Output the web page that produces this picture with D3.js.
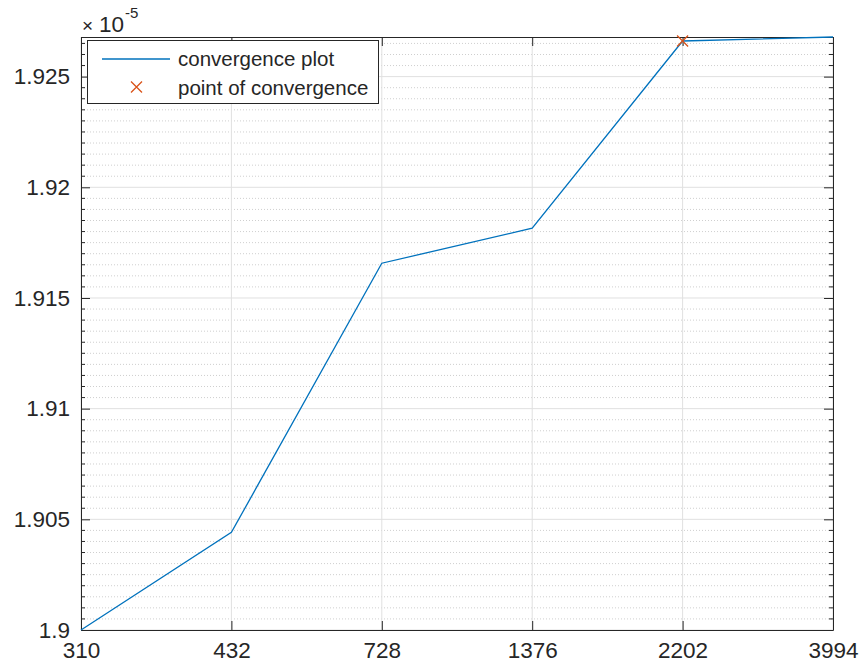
<!DOCTYPE html>
<html>
<head>
<meta charset="utf-8">
<script src="https://cdn.jsdelivr.net/npm/d3@7"></script>
<style>
  body { margin: 0; background: #fff; }
  svg text { font-family: Arial, "Liberation Sans", Helvetica, sans-serif; fill: #262626; }
</style>
</head>
<body>
<div id="chart"></div>
<script>
(function(){

    // data (values in units of 1e-5)
    var xLabels = ["310", "432", "728", "1376", "2202", "3994"];
    var values = [1.9000, 1.90441, 1.91657, 1.91815, 1.92661, 1.92679];
    var convergeIndex = 4;
    var yTicks = [1.9, 1.905, 1.91, 1.915, 1.92, 1.925];
    var yDomain = [1.9, 1.92679];
    var exponent = "-5";
    var legendLabels = ["convergence plot", "point of convergence"];

    var width = 862;
    var height = 671;
    var margin = { top: 37, right: 29, bottom: 41, left: 81 };

    var svg = d3.select("#chart")
        .append("svg")
            .attr("width", width)
            .attr("height", height);

    var w = width - margin.left - margin.right;
    var h = height - margin.top - margin.bottom;

    var g = svg.append("g")
        .attr("transform", "translate(" + margin.left + "," + margin.top + ")");

    var x = d3.scalePoint()
        .domain(d3.range(xLabels.length))
        .range([0, w]);

    var y = d3.scaleLinear()
        .domain(yDomain)
        .range([h, 0]);

    // minor ticks every 0.0005
    var minor = d3.range(0, 60).map(function(i){ return +(1.9 + i * 0.0005).toFixed(4); })
        .filter(function(v){ return v <= yDomain[1] && yTicks.indexOf(v) < 0; });

    // minor grid (dotted)
    g.append("g").selectAll("line")
        .data(minor)
        .enter().append("line")
            .attr("x1", 0).attr("x2", w)
            .attr("y1", function(d){ return y(d); })
            .attr("y2", function(d){ return y(d); })
            .style("stroke", "#cfcfcf")
            .style("stroke-width", 1)
            .style("stroke-dasharray", "1,2");

    // major grid
    g.append("g").selectAll("line")
        .data(yTicks)
        .enter().append("line")
            .attr("x1", 0).attr("x2", w)
            .attr("y1", function(d){ return y(d); })
            .attr("y2", function(d){ return y(d); })
            .style("stroke", "#e0e0e0")
            .style("stroke-width", 1);

    g.append("g").selectAll("line")
        .data(d3.range(xLabels.length))
        .enter().append("line")
            .attr("x1", function(d){ return x(d); })
            .attr("x2", function(d){ return x(d); })
            .attr("y1", 0).attr("y2", h)
            .style("stroke", "#e0e0e0")
            .style("stroke-width", 1);

    // axes, ticks inside
    var fmt = function(d){ return d3.format("")(+d.toFixed(3)); };

    var yLeft = g.append("g")
        .call(d3.axisLeft(y).tickValues(yTicks).tickFormat(fmt).tickSizeInner(-9).tickSizeOuter(0).tickPadding(11));
    var yRight = g.append("g")
        .attr("transform", "translate(" + w + ",0)")
        .call(d3.axisRight(y).tickValues(yTicks).tickFormat("").tickSizeInner(-9).tickSizeOuter(0));
    var xBottom = g.append("g")
        .attr("transform", "translate(0," + h + ")")
        .call(d3.axisBottom(x).tickFormat(function(i){ return xLabels[i]; }).tickSizeInner(-9).tickSizeOuter(0).tickPadding(12));
    var xTop = g.append("g")
        .call(d3.axisTop(x).tickFormat("").tickSizeInner(-9).tickSizeOuter(0));

    [yLeft, yRight, xBottom, xTop].forEach(function(a){
        a.select(".domain").style("stroke", "#262626");
        a.selectAll(".tick line").style("stroke", "#262626");
        a.selectAll(".tick text")
            .style("font-size", "22.5px")
            .style("fill", "#262626");
    });
    xBottom.selectAll(".tick text").attr("dy", "0.71em");

    // minor ticks left and right
    g.append("g").selectAll("line")
        .data(minor)
        .enter().append("line")
            .attr("x1", 0).attr("x2", 4)
            .attr("y1", function(d){ return y(d); })
            .attr("y2", function(d){ return y(d); })
            .style("stroke", "#262626");
    g.append("g").selectAll("line")
        .data(minor)
        .enter().append("line")
            .attr("x1", w - 4).attr("x2", w)
            .attr("y1", function(d){ return y(d); })
            .attr("y2", function(d){ return y(d); })
            .style("stroke", "#262626");

    // exponent label: "x10" with superscript
    svg.append("text")
        .attr("x", 82)
        .attr("y", 32)
        .style("font-size", "19px")
        .text("\u00d7");
    svg.append("text")
        .attr("x", 99)
        .attr("y", 32)
        .style("font-size", "22.5px")
        .text("10");
    svg.append("text")
        .attr("x", 125)
        .attr("y", 18)
        .style("font-size", "15px")
        .text(exponent);

    // line
    var line = d3.line()
        .x(function(d, i){ return x(i); })
        .y(function(d){ return y(d); });

    g.append("path")
        .datum(values)
        .attr("d", line)
        .style("fill", "none")
        .style("stroke", "#0072BD")
        .style("stroke-width", 1.3);

    // convergence marker
    function cross(sel, cx, cy, r) {
        sel.append("path")
            .attr("d", "M" + (cx - r) + "," + (cy - r) + "L" + (cx + r) + "," + (cy + r) +
                       "M" + (cx - r) + "," + (cy + r) + "L" + (cx + r) + "," + (cy - r))
            .style("stroke", "#D95319")
            .style("stroke-width", 1.3)
            .style("fill", "none");
    }
    cross(g, x(convergeIndex), y(values[convergeIndex]), 5.5);

    // legend
    var lg = svg.append("g");
    lg.append("rect")
        .attr("x", 87.5).attr("y", 40.5)
        .attr("width", 291).attr("height", 63)
        .style("fill", "#fff")
        .style("stroke", "#262626")
        .style("stroke-width", 1);
    lg.append("line")
        .attr("x1", 102).attr("x2", 170)
        .attr("y1", 59).attr("y2", 59)
        .style("stroke", "#0072BD")
        .style("stroke-width", 1.3);
    cross(lg, 136.5, 87, 5.5);
    lg.selectAll("text.leg")
        .data(legendLabels)
        .enter().append("text")
            .attr("class", "leg")
            .attr("x", 178)
            .attr("y", function(d, i){ return 59 + i * 28.5; })
            .attr("dy", "0.35em")
            .style("font-size", "20.5px")
            .text(function(d){ return d; });

})();
</script>
</body>
</html>
